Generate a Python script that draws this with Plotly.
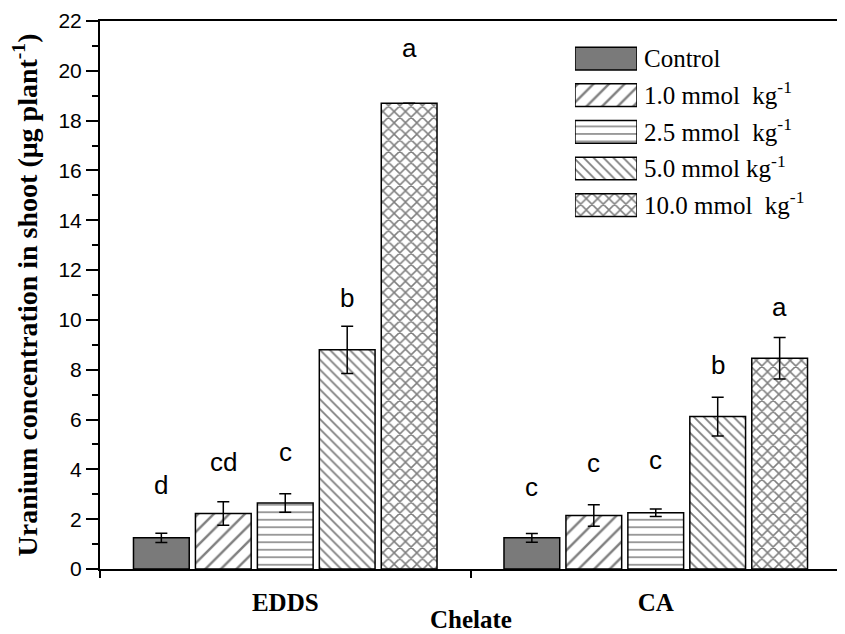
import plotly.graph_objects as go

categories = ["EDDS", "CA"]
series_names = ["Control", "1.0 mmol  kg<sup>-1</sup>", "2.5 mmol  kg<sup>-1</sup>",
                "5.0 mmol kg<sup>-1</sup>", "10.0 mmol  kg<sup>-1</sup>"]
values = [
    [1.25, 1.25],
    [2.23, 2.15],
    [2.65, 2.26],
    [8.80, 6.12],
    [18.70, 8.46],
]
errors = [
    [0.19, 0.18],
    [0.47, 0.43],
    [0.37, 0.15],
    [0.95, 0.78],
    [0.0, 0.83],
]
letters = [
    ["d", "c"],
    ["cd", "c"],
    ["c", "c"],
    ["b", "b"],
    ["a", "a"],
]
letter_y = [
    [3.37, 3.31],
    [4.30, 4.26],
    [4.70, 4.38],
    [10.88, 8.19],
    [20.9, 10.53],
]

patterns = ["", "/", "-", "\\", "x"]
pattern_sizes = [8, 11, 7.5, 7, 8]
pattern_solidity = [0.2, 0.22, 0.2, 0.26, 0.34]
fills = ["#7a7a7a", "white", "white", "white", "white"]

BARGAP = 0.164
GROUPGAP = 0.1
SERIF = "Liberation Serif, Times New Roman, serif"
SANS = "Liberation Sans, Arial, sans-serif"


def marker_for(i):
    return dict(color=fills[i], line=dict(color="black", width=1.5),
                pattern=dict(shape=patterns[i], fgcolor="black", bgcolor=fills[i],
                             size=pattern_sizes[i], solidity=pattern_solidity[i]))


fig = go.Figure()
for i, name in enumerate(series_names):
    fig.add_trace(go.Bar(
        x=categories, y=values[i], name=name, showlegend=False,
        marker=marker_for(i),
        error_y=dict(type="data", array=errors[i], visible=True,
                     color="black", thickness=1.5, width=6),
    ))

# legend drawn as a small inset of swatch bars, labelled by the series names
for i, name in enumerate(series_names):
    fig.add_trace(go.Bar(
        x=[1], y=[name], orientation="h", xaxis="x2", yaxis="y2",
        width=0.62, offset=-0.31, showlegend=False, hoverinfo="skip",
        marker=marker_for(i),
    ))

n = len(series_names)
slot = (1 - BARGAP) / n
for i in range(n):
    off = -(1 - BARGAP) / 2 + (i + 0.5) * slot
    for j in range(len(categories)):
        fig.add_annotation(x=j + off, y=letter_y[i][j], xref="x", yref="y",
                           text=letters[i][j], showarrow=False,
                           font=dict(family=SANS, size=26, color="black"),
                           yanchor="middle")

fig.add_annotation(x=0.5, y=-0.092, xref="paper", yref="paper",
                   text="<b>Chelate</b>", showarrow=False,
                   font=dict(family=SERIF, size=25, color="black"),
                   xanchor="center", yanchor="middle")

fig.update_layout(
    width=837, height=626,
    margin=dict(l=92, r=4, t=13, b=65),
    paper_bgcolor="white", plot_bgcolor="white",
    barmode="group", bargap=BARGAP, bargroupgap=GROUPGAP,
    showlegend=False,
    font=dict(family=SANS, color="black"),
    xaxis=dict(
        type="category", range=[-0.5, 1.5], automargin=False,
        showline=True, linecolor="black", linewidth=2, mirror=True,
        ticks="outside", tickson="boundaries", ticklen=7, tickwidth=1.5, tickcolor="black",
        tickfont=dict(family=SERIF, size=25, color="black"),
        tickprefix="<b>", ticksuffix="</b>", ticklabelstandoff=10,
        showgrid=False,
    ),
    yaxis=dict(
        range=[0, 22], tickmode="linear", tick0=0, dtick=2, automargin=False,
        showline=True, linecolor="black", linewidth=2, mirror=True,
        ticks="outside", ticklen=12, tickwidth=1.5, tickcolor="black",
        minor=dict(ticks="outside", ticklen=6, tickwidth=1.5, tickcolor="black",
                   dtick=1, showgrid=False),
        tickfont=dict(family=SANS, size=21, color="black"),
        showgrid=False, zeroline=False,
        title=dict(text="<b>Uranium concentration in shoot (μg plant<sup>-1</sup>)</b>",
                   standoff=17, font=dict(family=SERIF, size=28, color="black")),
    ),
    xaxis2=dict(domain=[0.641, 0.7247], anchor="y2", range=[0, 1],
                showticklabels=False, ticks="", showline=False, showgrid=False,
                zeroline=False, fixedrange=True),
    yaxis2=dict(domain=[0.6305, 0.965], anchor="x2", type="category",
                categoryorder="array", categoryarray=series_names,
                autorange="reversed", side="right", ticks="", showline=False,
                showgrid=False, zeroline=False, ticklabelstandoff=6,
                tickfont=dict(family=SERIF, size=25, color="black"), fixedrange=True),
)

fig.write_html("out.html")
